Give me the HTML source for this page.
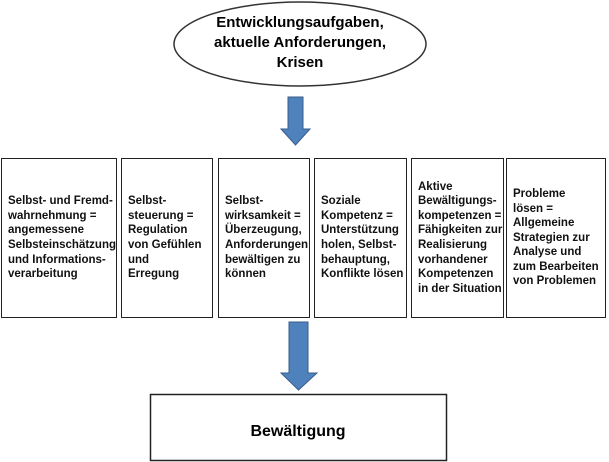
<!DOCTYPE html>
<html><head><meta charset="utf-8"><style>
body{margin:0;width:609px;height:462px;background:#fff;position:relative;overflow:hidden;font-family:"Liberation Sans",sans-serif;font-weight:bold;color:#111}
.b{position:absolute;top:158px;height:160px;border:1.5px solid #222;box-sizing:border-box;display:flex;align-items:center;padding-left:6px;font-size:11.5px;line-height:14.6px}
</style></head><body>
<svg width="609" height="462" style="position:absolute;left:0;top:0">
<ellipse cx="300" cy="44" rx="126" ry="42" fill="#fff" stroke="#333" stroke-width="1.5"/>
<polygon points="288,97 303,97 303,129 310,129 295.5,145 281,129 288,129" fill="#4f81bd" stroke="#385d8a" stroke-width="1"/>
<polygon points="289,322 308,322 308,373 317,373 298.5,390 281,373 289,373" fill="#4f81bd" stroke="#385d8a" stroke-width="1"/>
<rect x="150.5" y="394.5" width="296" height="66" fill="#fff" stroke="#222" stroke-width="1.5"/>
<text x="300" y="27" font-size="15" text-anchor="middle" font-weight="bold" font-family="Liberation Sans">Entwicklungsaufgaben,</text>
<text x="300" y="47" font-size="15" text-anchor="middle" font-weight="bold" font-family="Liberation Sans">aktuelle Anforderungen,</text>
<text x="300" y="67" font-size="15" text-anchor="middle" font-weight="bold" font-family="Liberation Sans">Krisen</text>
<text x="298" y="436" font-size="16" text-anchor="middle" font-weight="bold" font-family="Liberation Sans">Bewältigung</text>
</svg>
<div class="b" style="left:1px;width:116px"><div>Selbst- und Fremd-<br>wahrnehmung =<br>angemessene<br>Selbsteinschätzung<br>und Informations-<br>verarbeitung</div></div>
<div class="b" style="left:121px;width:92px"><div>Selbst-<br>steuerung =<br>Regulation<br>von Gefühlen<br>und<br>Erregung</div></div>
<div class="b" style="left:218px;width:92px"><div>Selbst-<br>wirksamkeit =<br>Überzeugung,<br>Anforderungen<br>bewältigen zu<br>können</div></div>
<div class="b" style="left:314px;width:93px"><div>Soziale<br>Kompetenz =<br>Unterstützung<br>holen, Selbst-<br>behauptung,<br>Konflikte lösen</div></div>
<div class="b" style="left:411px;width:93px"><div>Aktive<br>Bewältigungs-<br>kompetenzen =<br>Fähigkeiten zur<br>Realisierung<br>vorhandener<br>Kompetenzen<br>in der Situation</div></div>
<div class="b" style="left:506px;width:100px"><div>Probleme<br>lösen =<br>Allgemeine<br>Strategien zur<br>Analyse und<br>zum Bearbeiten<br>von Problemen</div></div>
</body></html>
